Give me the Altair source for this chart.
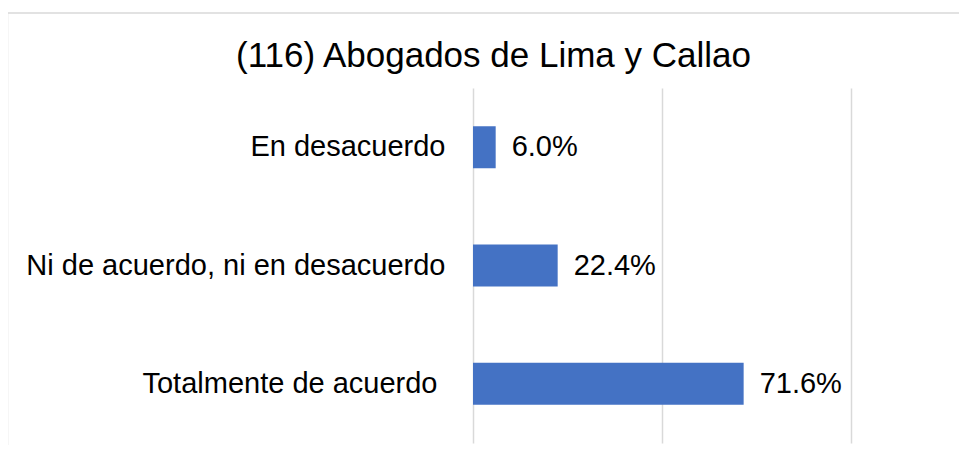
import altair as alt
import pandas as pd

# ---- data ----
title_text = "(116) Abogados de Lima y Callao"
categories = ["En desacuerdo", "Ni de acuerdo, ni en desacuerdo", "Totalmente de acuerdo"]
values = [0.060, 0.224, 0.716]
grid_values = [0, 0.5, 1]

FONT = "Liberation Sans"
df = pd.DataFrame({"categoria": categories, "valor": values})

yscale = alt.Scale(paddingInner=0.645, paddingOuter=0.3225)

bars = alt.Chart(df).mark_bar(color="#4472C4").encode(
    y=alt.Y("categoria:N", sort=categories, title=None, scale=yscale,
            axis=alt.Axis(labelFontSize=29, labelFont=FONT, labelColor="#000000",
                          labelPadding={"condition": {"test": "datum.value == 'Totalmente de acuerdo'",
                                                      "value": 36}, "value": 28},
                          ticks=False, domain=False, labelLimit=0, grid=False)),
    x=alt.X("valor:Q", scale=alt.Scale(domain=[0, 1], nice=False), title=None,
            axis=alt.Axis(values=grid_values, labels=False, ticks=False, domain=False,
                          grid=True, gridColor="#d9d9d9", gridWidth=1.5)),
)

labels = alt.Chart(df).mark_text(align="left", baseline="middle", dx=16, fontSize=29,
                                 font=FONT, color="#000000").encode(
    y=alt.Y("categoria:N", sort=categories),
    x=alt.X("valor:Q"),
    text=alt.Text("valor:Q", format=".1%"),
)

title = alt.Chart(alt.Data(values=[{"t": title_text}])).mark_text(
    align="center", baseline="alphabetic", fontSize=35, font=FONT, color="#000000"
).encode(x=alt.value(20.5), y=alt.value(-21), text="t:N")

frame_top = alt.Chart(alt.Data(values=[{}])).mark_rule(color="#d9d9d9", strokeWidth=1.5).encode(
    x=alt.value(-465.5), x2=alt.value(486), y=alt.value(-75))
frame_left = alt.Chart(alt.Data(values=[{}])).mark_rule(color="#d9d9d9", strokeWidth=1.5).encode(
    x=alt.value(-465.5), y=alt.value(-75), y2=alt.value(357))

chart = alt.layer(bars, labels, title, frame_top, frame_left).properties(
    width=378, height=355,
    autosize=alt.AutoSizeParams(type="none"),
    padding={"left": 465, "top": 80, "right": 108, "bottom": 2},
    background="white",
).configure_view(stroke=None)

chart.save("out.html", embed_options={"renderer": "svg", "actions": False})
